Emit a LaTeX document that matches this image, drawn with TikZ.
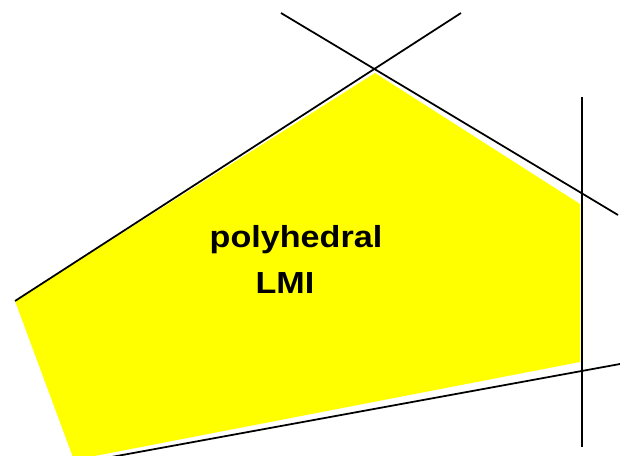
\documentclass[tikz,border=0pt]{standalone}
\usepackage{fontspec}
\setmainfont{Liberation Sans}
\definecolor{lmiyellow}{RGB}{255,255,0}
\begin{document}
\begin{tikzpicture}[x=0.03cm, y=-0.03cm]
\useasboundingbox (0,0) rectangle (620,456);
\clip (0,0) rectangle (620,456);
\fill[lmiyellow] (15,301) -- (375,73) -- (580,204) -- (580,362) -- (74,460) -- cycle;
\draw[line width=1.5pt] (281,13) -- (618,215);
\draw[line width=1.5pt] (461,13) -- (15,301);
\draw[line width=1.5pt] (582,97) -- (582,447);
\draw[line width=1.5pt] (620,364) -- (95,460);
\node[font=\fontsize{26}{30}\bfseries\selectfont, xscale=1.12, anchor=base] (txtA) at (296,247) {polyhedral};
\node[font=\fontsize{26}{30}\bfseries\selectfont, xscale=1.12, anchor=base] (txtB) at (285,293) {LMI};
\end{tikzpicture}
\end{document}
